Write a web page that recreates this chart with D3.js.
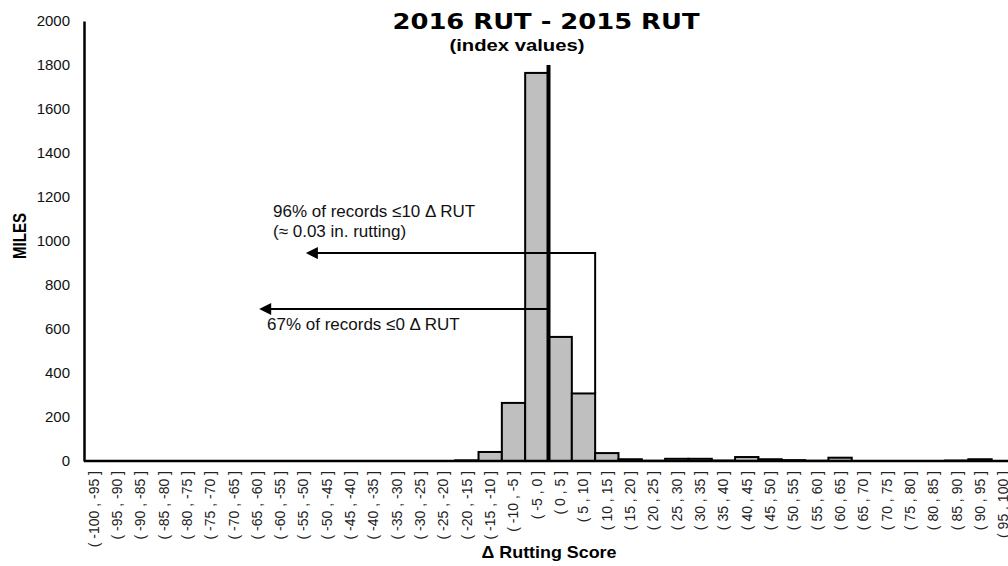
<!DOCTYPE html>
<meta charset="utf-8">
<style>
  body { margin: 0; background: #fff; }
  text { font-family: "Liberation Sans", Arial, sans-serif; }
</style>
<svg width="1008" height="566"></svg>
<script src="https://d3js.org/d3.v7.min.js"></script>
<script>

var bins = ["( -100 , -95 ]", "( -95 , -90 ]", "( -90 , -85 ]", "( -85 , -80 ]", "( -80 , -75 ]",
  "( -75 , -70 ]", "( -70 , -65 ]", "( -65 , -60 ]", "( -60 , -55 ]", "( -55 , -50 ]",
  "( -50 , -45 ]", "( -45 , -40 ]", "( -40 , -35 ]", "( -35 , -30 ]", "( -30 , -25 ]",
  "( -25 , -20 ]", "( -20 , -15 ]", "( -15 , -10 ]", "( -10 , -5 ]", "( -5 , 0 ]",
  "( 0 , 5 ]", "( 5 , 10 ]", "( 10 , 15 ]", "( 15 , 20 ]", "( 20 , 25 ]",
  "( 25 , 30 ]", "( 30 , 35 ]", "( 35 , 40 ]", "( 40 , 45 ]", "( 45 , 50 ]",
  "( 50 , 55 ]", "( 55 , 60 ]", "( 60 , 65 ]", "( 65 , 70 ]", "( 70 , 75 ]",
  "( 75 , 80 ]", "( 80 , 85 ]", "( 85 , 90 ]", "( 90 , 95 ]", "( 95 , 100 ]"];

var miles = [0, 0, 0, 0, 0,
  0, 0, 0, 0, 0,
  0, 0, 0, 0, 0,
  0, 3, 41, 264, 1764,
  564, 307, 36, 8, 1,
  10, 10, 2, 18, 8,
  4, 1, 15, 0, 0,
  0, 0, 2, 8, 0];

var yTicks = [0, 200, 400, 600, 800, 1000, 1200, 1400, 1600, 1800, 2000];

// annotation anchors, in data units (score, miles)
var zeroLine = { score: 0, top: 1800 };
var arrow96 = { from: 10, to: -51.5, level: 945, lines: ["96% of records \u226410 \u0394 RUT", "(\u2248 0.03 in. rutting)"] };
var arrow67 = { from: 0, to: -61.5, level: 691, lines: ["67% of records \u22640 \u0394 RUT"] };

var svg = d3.select("svg");
var plotL = 82, plotR = 1015, plotT = 21, plotB = 461;

var x = d3.scaleBand().domain(bins).range([plotL, plotR]).padding(0);
var xv = d3.scaleLinear().domain([-100, 100]).range([plotL, plotR]);
var y = d3.scaleLinear().domain([0, 2000]).range([plotB, plotT]);

// bars
svg.append("g")
  .selectAll("rect")
  .data(miles)
  .enter().append("rect")
  .attr("x", function(d, i) { return x(bins[i]); })
  .attr("y", function(d) { return y(d); })
  .attr("width", x.bandwidth())
  .attr("height", function(d) { return plotB - y(d); })
  .attr("fill", "#bfbfbf")
  .attr("stroke", "#000")
  .attr("stroke-width", function(d) { return d > 0 ? 2 : 0; });

// y axis
var yAxis = svg.append("g")
  .attr("transform", "translate(84,0)")
  .call(d3.axisLeft(y).tickValues(yTicks).tickFormat(d3.format("d")).tickSize(0).tickPadding(14));
yAxis.select(".domain").attr("stroke", "#000").attr("stroke-width", 2.5);
yAxis.selectAll("text").attr("font-size", 15).attr("fill", "#111");

// x axis
var xAxis = svg.append("g")
  .attr("transform", "translate(0," + plotB + ")")
  .call(d3.axisBottom(x).tickSize(0).tickPadding(0));
xAxis.select(".domain").attr("d", "M84,0H1008").attr("stroke", "#000").attr("stroke-width", 2.5);
xAxis.selectAll("text")
  .attr("font-size", 14)
  .attr("fill", "#222")
  .attr("transform", "rotate(-90)")
  .attr("text-anchor", "end")
  .attr("x", -10)
  .attr("y", 0)
  .attr("dy", "0.35em");

// zero divider
svg.append("line")
  .attr("x1", xv(zeroLine.score)).attr("x2", xv(zeroLine.score))
  .attr("y1", y(zeroLine.top)).attr("y2", plotB)
  .attr("stroke", "#000").attr("stroke-width", 4);

// arrows
svg.append("defs").append("marker")
  .attr("id", "head")
  .attr("viewBox", "0 0 10 10")
  .attr("refX", 8).attr("refY", 5)
  .attr("markerWidth", 7).attr("markerHeight", 6)
  .attr("markerUnits", "strokeWidth")
  .attr("orient", "auto-start-reverse")
  .append("path").attr("d", "M0,0L10,5L0,10Z").attr("fill", "#000");

var idx10 = bins.indexOf("( 5 , 10 ]");
svg.append("path")
  .attr("d", "M" + xv(arrow96.to) + "," + y(arrow96.level) +
    "H" + xv(arrow96.from) + "V" + y(miles[idx10]))
  .attr("fill", "none")
  .attr("stroke", "#000").attr("stroke-width", 2)
  .attr("marker-start", "url(#head)");

svg.append("path")
  .attr("d", "M" + xv(arrow67.to) + "," + y(arrow67.level) + "H" + xv(arrow67.from))
  .attr("fill", "none")
  .attr("stroke", "#000").attr("stroke-width", 2)
  .attr("marker-start", "url(#head)");

svg.append("text")
  .attr("x", 273).attr("y", 217)
  .attr("font-size", 17).attr("fill", "#111")
  .selectAll("tspan")
  .data(arrow96.lines)
  .enter().append("tspan")
  .attr("x", 273)
  .attr("dy", function(d, i) { return i ? 20 : 0; })
  .text(function(d) { return d; });

svg.append("text")
  .attr("x", 267).attr("y", 330)
  .attr("font-size", 17).attr("fill", "#111")
  .text(arrow67.lines[0]);

// titles
svg.append("text")
  .attr("x", 546).attr("y", 29)
  .attr("text-anchor", "middle")
  .attr("font-size", 21).attr("font-weight", 900)
  .attr("textLength", 307).attr("lengthAdjust", "spacingAndGlyphs")
  .style("font-family", "'DejaVu Sans', sans-serif")
  .text("2016 RUT - 2015 RUT");

svg.append("text")
  .attr("x", 517).attr("y", 51)
  .attr("text-anchor", "middle")
  .attr("font-size", 17).attr("font-weight", "bold")
  .attr("textLength", 135).attr("lengthAdjust", "spacingAndGlyphs")
  .text("(index values)");

svg.append("text")
  .attr("x", 549).attr("y", 558)
  .attr("text-anchor", "middle")
  .attr("font-size", 17).attr("font-weight", "bold")
  .attr("textLength", 135).attr("lengthAdjust", "spacingAndGlyphs")
  .text("\u0394 Rutting Score");

svg.append("text")
  .attr("transform", "translate(26,236) rotate(-90)")
  .attr("text-anchor", "middle")
  .attr("font-size", 18).attr("font-weight", "bold")
  .attr("textLength", 46).attr("lengthAdjust", "spacingAndGlyphs")
  .text("MILES");

</script>
